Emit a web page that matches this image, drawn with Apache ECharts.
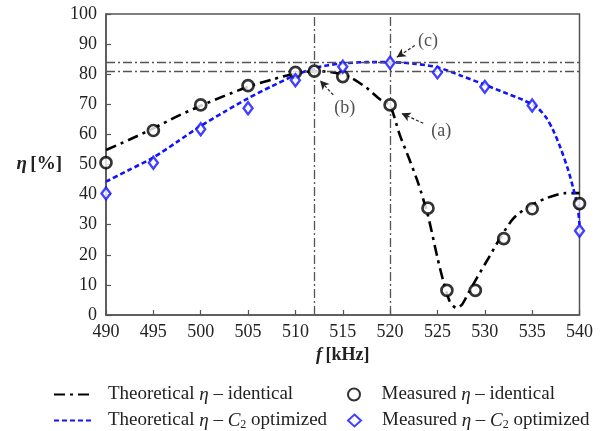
<!DOCTYPE html>
<html>
<head>
<meta charset="utf-8">
<script src="https://cdn.jsdelivr.net/npm/echarts@6/dist/echarts.min.js"></script>
<style>
  html, body { margin: 0; padding: 0; background: #fff; }
  #chart { width: 603px; height: 431px; }
</style>
</head>
<body>
<div id="chart"></div>
<script>
// Efficiency η versus switching frequency f

// Theoretical curve, identical coils
const theoFreqIdentical = [490, 492.5, 495, 497.5, 500, 502.5, 505, 507.5, 510, 512, 513.5, 515, 516, 517.5, 519,
  520, 521, 522, 523, 524, 525, 525.6, 526.3, 527, 527.6, 528.3, 529.2, 530.5, 531.7, 533, 534.5, 536.5, 538.5, 540];
const theoEtaIdentical = [54.8, 58.3, 62, 66, 69.5, 72.8, 75.8, 78.2, 80.2, 81, 80.8, 79.9, 78.6, 75.5, 71.5,
  69.5, 60, 52, 43.5, 33, 19, 11.5, 4.5, 2.3, 3.5, 7.5, 12.5, 19.5, 26, 32, 35.8, 38.8, 40.5, 40.5];

// Theoretical curve, C2 optimized
const theoFreqOptimized = [490, 492.5, 495, 497.5, 500, 502.5, 505, 507.5, 510, 512, 513.5, 515, 517.5, 520,
  522.5, 525, 527.5, 530, 532, 534, 535.5, 536.5, 537.2, 538, 538.8, 539.3, 539.8, 540];
const theoEtaOptimized = [44.3, 48.3, 52.3, 57.5, 62.8, 67.5, 72, 76, 79.7, 82, 83, 83.6, 84, 84,
  83.5, 82.3, 79.5, 76.5, 74, 71.5, 69, 65.5, 61.5, 55.5, 48.2, 42.6, 36, 30];

// Measured points, identical coils
const measFreqIdentical = [490, 495, 500, 505, 510, 512, 515, 520, 524, 526, 529, 532, 535, 540];
const measEtaIdentical = [50.6, 61.3, 69.8, 76.2, 80.6, 81, 79.2, 69.8, 35.5, 8.2, 8.2, 25.4, 35.3, 37];

// Measured points, C2 optimized
const measFreqOptimized = [490, 495, 500, 505, 510, 515, 520, 525, 530, 535, 540];
const measEtaOptimized = [40.4, 50.6, 61.7, 68.7, 78, 82.5, 83.8, 80.6, 75.8, 69.6, 28];

// Reference guide lines
const guideEta = [84, 81];
const guideFreq = [512, 520];

// Callouts: label, label anchor, arrow tail, arrow head (data units)
const callouts = [
  { label: '(a)', at: [525.4, 60.9], tail: [523.5, 63.7], head: [521.2, 67.0] },
  { label: '(b)', at: [515.2, 68.7], tail: [514.0, 73.1], head: [512.6, 77.9] },
  { label: '(c)', at: [524.0, 90.9], tail: [522.6, 89.5], head: [520.7, 85.6] }
];

const seriesNames = [
  'Theoretical η – identical',
  'Theoretical η – C2 optimized',
  'Measured η – identical',
  'Measured η – C2 optimized'
];

const legendRich = {
  '0': '{t|Theoretical }{i|η}{t| – identical}',
  '1': '{t|Theoretical }{i|η}{t| – }{i|C}{s|2}{t| optimized}',
  '2': '{t|Measured }{i|η}{t| – identical}',
  '3': '{t|Measured }{i|η}{t| – }{i|C}{s|2}{t| optimized}'
};

const FONT = '"Liberation Serif", "Times New Roman", serif';
const TXT = '#222';
const BLUE = '#1212ff';

const pairs = (xs, ys) => xs.map((x, i) => [x, ys[i]]);

const richText = {
  t: { fontFamily: FONT, fontSize: 19, color: TXT, lineHeight: 20 },
  i: { fontFamily: FONT, fontSize: 19, color: TXT, fontStyle: 'italic', lineHeight: 20 },
  s: { fontFamily: FONT, fontSize: 12, color: TXT, lineHeight: 12, verticalAlign: 'bottom' }
};

const legendFormatter = name => legendRich[String(seriesNames.indexOf(name))];

// one legend block per entry, laid out as a 2 x 2 table
function legendBlock(idx, left, top, isLine) {
  const item = { name: seriesNames[idx] };
  if (isLine) {
    // line entries show the stroke pattern only
    item.itemStyle = { color: 'transparent', borderWidth: 0, opacity: 0 };
  }
  return {
    orient: 'horizontal', left: left, top: top, padding: 0,
    itemWidth: isLine ? 37 : 13, itemHeight: isLine ? 14 : 12,
    data: [item],
    formatter: legendFormatter,
    textStyle: { padding: [0, 0, 0, isLine ? 12 : 16], rich: richText }
  };
}

const chart = echarts.init(document.getElementById('chart'), null, { renderer: 'canvas' });

chart.setOption({
  animation: false,
  backgroundColor: '#fff',
  grid: {
    left: 106, right: 23.5, top: 14, bottom: 116,
    show: true, borderColor: '#555', borderWidth: 1.5, backgroundColor: 'transparent'
  },
  xAxis: {
    type: 'value', min: 490, max: 540, interval: 5,
    name: '{i|f} {b|[kHz]}',
    nameLocation: 'middle', nameGap: 31,
    nameTextStyle: {
      rich: {
        i: { fontFamily: FONT, fontSize: 18, fontWeight: 'bold', fontStyle: 'italic', color: TXT },
        b: { fontFamily: FONT, fontSize: 18, fontWeight: 'bold', color: TXT }
      }
    },
    axisLine: { lineStyle: { color: '#555', width: 1.5 } },
    axisTick: { inside: true, length: 5, lineStyle: { color: '#555', width: 1.2 } },
    axisLabel: { fontFamily: FONT, fontSize: 18, color: TXT, margin: 8 },
    splitLine: { show: false }
  },
  yAxis: {
    type: 'value', min: 0, max: 100, interval: 10,
    name: '{i|η} {b|[%]}',
    nameLocation: 'middle', nameRotate: 0, nameGap: 44,
    nameTextStyle: {
      align: 'right',
      rich: {
        i: { fontFamily: FONT, fontSize: 19, fontWeight: 'bold', fontStyle: 'italic', color: TXT },
        b: { fontFamily: FONT, fontSize: 19, fontWeight: 'bold', color: TXT }
      }
    },
    axisLine: { show: true, lineStyle: { color: '#555', width: 1.5 } },
    axisTick: { show: true, inside: true, length: 5, lineStyle: { color: '#555', width: 1.2 } },
    axisLabel: { fontFamily: FONT, fontSize: 18, color: TXT, margin: 9 },
    splitLine: { show: false }
  },
  legend: [
    legendBlock(0, 53, 385, true),
    legendBlock(1, 53, 411, true),
    legendBlock(2, 347, 385, false),
    legendBlock(3, 347, 411, false)
  ],
  series: [
    {
      // guide lines at the two efficiency levels and the two frequencies
      name: 'guides', type: 'line', data: [], silent: true,
      markLine: {
        silent: true, symbol: 'none', label: { show: false },
        lineStyle: { color: '#555', width: 1.3, type: [9, 3, 2, 3] },
        data: guideEta.map(v => ({ yAxis: v })).concat(guideFreq.map(v => ({ xAxis: v })))
      },
      z: 1
    },
    {
      name: seriesNames[0], type: 'line', data: pairs(theoFreqIdentical, theoEtaIdentical),
      symbol: 'none', smooth: 0.25,
      lineStyle: { color: '#000', width: 2.6, type: [11, 5, 3, 5] },
      itemStyle: { color: '#000' },
      z: 2
    },
    {
      name: seriesNames[1], type: 'line', data: pairs(theoFreqOptimized, theoEtaOptimized),
      symbol: 'none', smooth: 0.25,
      lineStyle: { color: BLUE, width: 2.6, type: [5, 3] },
      itemStyle: { color: BLUE },
      z: 3
    },
    {
      name: seriesNames[2], type: 'scatter', data: pairs(measFreqIdentical, measEtaIdentical),
      symbol: 'circle', symbolSize: 11,
      itemStyle: { color: '#fff', borderColor: '#000', borderWidth: 2.7 },
      z: 5
    },
    {
      name: seriesNames[3], type: 'scatter', data: pairs(measFreqOptimized, measEtaOptimized),
      symbol: 'diamond', symbolSize: [9, 12],
      itemStyle: { color: '#fff', borderColor: BLUE, borderWidth: 2.4 },
      z: 6
    },
    {
      // callout labels and their arrows
      name: 'callouts', type: 'scatter', silent: true,
      data: callouts.map(c => ({ value: c.at, label: { formatter: c.label } })),
      symbolSize: 0,
      label: { show: true, position: 'inside', fontFamily: FONT, fontSize: 18, color: TXT },
      markLine: {
        silent: true, symbol: ['none', 'arrow'], symbolSize: [7, 9],
        label: { show: false },
        lineStyle: { color: '#222', width: 1.2, type: [3, 2] },
        data: callouts.map(c => [{ coord: c.tail }, { coord: c.head }])
      },
      z: 7
    }
  ]
});
</script>
</body>
</html>
